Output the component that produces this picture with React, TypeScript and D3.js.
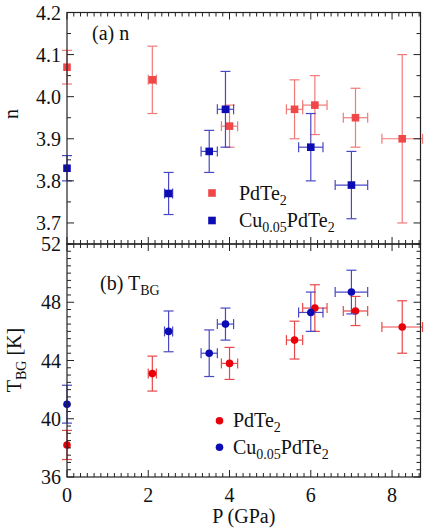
import * as d3 from "d3";

// pressure (GPa) and its error, PdTe2
const pdP = [0, 2.1, 4.0, 5.6, 6.1, 7.1, 8.25];
const pdPErr = [0, 0.1, 0.2, 0.2, 0.3, 0.3, 0.5];
// exponent n, PdTe2
const pdN = [4.07, 4.04, 3.93, 3.97, 3.98, 3.95, 3.9];
const pdNLo = [4.03, 3.96, 3.88, 3.9, 3.91, 3.88, 3.7];
const pdNHi = [4.11, 4.12, 3.98, 4.04, 4.05, 4.02, 4.1];
// T_BG, PdTe2
const pdT = [38.2, 43.1, 43.8, 45.4, 47.6, 47.4, 46.3];
const pdTLo = [37.2, 41.9, 42.7, 44.1, 46.0, 46.4, 44.5];
const pdTHi = [39.2, 44.3, 44.9, 46.7, 49.2, 48.4, 48.1];

// Cu0.05PdTe2
const cuP = [0, 2.5, 3.5, 3.9, 6.0, 7.0];
const cuPErr = [0, 0.1, 0.2, 0.2, 0.3, 0.4];
const cuN = [3.83, 3.77, 3.87, 3.97, 3.88, 3.79];
const cuNLo = [3.8, 3.72, 3.82, 3.88, 3.8, 3.71];
const cuNHi = [3.86, 3.82, 3.92, 4.06, 3.96, 3.87];
const cuT = [41.0, 46.0, 44.5, 46.5, 47.3, 48.7];
const cuTLo = [39.7, 44.6, 42.9, 45.4, 46.0, 47.2];
const cuTHi = [42.3, 47.4, 46.1, 47.6, 48.7, 50.2];

const xTicks = [0, 2, 4, 6, 8];
const nTicks = [3.7, 3.8, 3.9, 4.0, 4.1, 4.2];
const tTicks = [36, 40, 44, 48, 52];

const W = 427;
const H = 532;
const L = 67;
const R = 420.5;
const TOP = 12.5;
const MID = 244;
const BOT = 477;
const FONT = "Liberation Serif, Times New Roman, DejaVu Serif, serif";
const txt = { fontFamily: FONT };

const x = d3.scaleLinear().domain([0, 8.7]).range([L, R]);
const yN = d3.scaleLinear().domain([3.65, 4.2]).range([MID, TOP]);
const yT = d3.scaleLinear().domain([36, 52]).range([BOT, MID]);

type Pt = { p: number; pe: number; v: number; lo: number; hi: number };
const zip = (P: number[], PE: number[], V: number[], LO: number[], HI: number[]): Pt[] =>
  P.map((p, i) => ({ p, pe: PE[i], v: V[i], lo: LO[i], hi: HI[i] }));

function Frame({ y, top, bottom, minorY, majorY }: {
  y: d3.ScaleLinear<number, number>; top: number; bottom: number; minorY: number[]; majorY: number[];
}) {
  const xMinor = d3.range(0, 53).map((i) => i / 6).filter((v) => v <= 8.7);
  const ticks: JSX.Element[] = [];
  xMinor.forEach((v, i) => {
    const len = i % 12 === 0 ? 7 : 4;
    const px = x(v);
    ticks.push(<line key={"xb" + i} x1={px} x2={px} y1={bottom} y2={bottom - len} />);
    ticks.push(<line key={"xt" + i} x1={px} x2={px} y1={top} y2={top + len} />);
  });
  minorY.forEach((v, i) => {
    const major = majorY.some((m) => Math.abs(m - v) < 1e-6);
    const len = major ? 7 : 4;
    const py = y(v);
    ticks.push(<line key={"yl" + i} x1={L} x2={L + len} y1={py} y2={py} />);
    ticks.push(<line key={"yr" + i} x1={R} x2={R - len} y1={py} y2={py} />);
  });
  return (
    <g stroke="#222" strokeWidth={1}>
      {ticks}
      <rect x={L} y={top} width={R - L} height={bottom - top} fill="none" strokeWidth={1.2} />
    </g>
  );
}

function ErrPoints({ data, y, color, barColor, shape }: {
  data: Pt[]; y: d3.ScaleLinear<number, number>; color: string; barColor: string; shape: "sq" | "circ";
}) {
  const cap = 5;
  return (
    <g>
      {data.map((d, i) => {
        const cx = x(d.p);
        const cy = y(d.v);
        const x0 = x(d.p - d.pe);
        const x1 = x(d.p + d.pe);
        return (
          <g key={i} stroke={barColor} strokeWidth={1.2}>
            <line x1={cx} x2={cx} y1={y(d.lo)} y2={y(d.hi)} />
            <line x1={cx - cap} x2={cx + cap} y1={y(d.lo)} y2={y(d.lo)} />
            <line x1={cx - cap} x2={cx + cap} y1={y(d.hi)} y2={y(d.hi)} />
            {d.pe > 0 && (
              <>
                <line x1={x0} x2={x1} y1={cy} y2={cy} />
                <line x1={x0} x2={x0} y1={cy - cap} y2={cy + cap} />
                <line x1={x1} x2={x1} y1={cy - cap} y2={cy + cap} />
              </>
            )}
            {shape === "sq" ? (
              <rect x={cx - 3.8} y={cy - 3.8} width={7.6} height={7.6} fill={color} stroke="none" />
            ) : (
              <circle cx={cx} cy={cy} r={3.8} fill={color} stroke="none" />
            )}
          </g>
        );
      })}
    </g>
  );
}

function Formula({ x: tx, y: ty, cu }: { x: number; y: number; cu: boolean }) {
  return (
    <text x={tx} y={ty} fontSize={20} style={txt} fill="#111">
      {cu && (
        <>
          Cu<tspan fontSize={14} dy={5}>0.05</tspan>
          <tspan dy={-5}>PdTe</tspan>
        </>
      )}
      {!cu && "PdTe"}
      <tspan fontSize={14} dy={5}>2</tspan>
    </text>
  );
}

export default function App() {
  const nMinor = d3.range(0, 12).map((i) => 3.65 + i * 0.05);
  const tMinor = d3.range(0, 33).map((i) => 36 + i * 0.5);
  const red = zip(pdP, pdPErr, pdN, pdNLo, pdNHi);
  const blue = zip(cuP, cuPErr, cuN, cuNLo, cuNHi);
  const redT = zip(pdP, pdPErr, pdT, pdTLo, pdTHi);
  const blueT = zip(cuP, cuPErr, cuT, cuTLo, cuTHi);

  return (
    <svg width={W} height={H} style={{ position: "absolute", left: 0, top: 0, background: "#fff", fontFamily: FONT }}>
      <rect width={W} height={H} fill="#fff" />

      {/* panel (a) */}
      <ErrPoints data={red} y={yN} color="#f04848" barColor="#f07a7a" shape="sq" />
      <ErrPoints data={blue} y={yN} color="#0c0cb4" barColor="#4848c4" shape="sq" />
      <Frame y={yN} top={TOP} bottom={MID} minorY={nMinor} majorY={nTicks} />
      <text x={92} y={40} fontSize={20} style={txt} fill="#111">(a) n</text>
      <rect x={212 - 3.8} y={193 - 3.8} width={7.6} height={7.6} fill="#f04848" />
      <rect x={212 - 3.8} y={220.5 - 3.8} width={7.6} height={7.6} fill="#0c0cb4" />
      <Formula x={239} y={200} cu={false} />
      <Formula x={239} y={227} cu={true} />

      {/* panel (b) */}
      <ErrPoints data={redT} y={yT} color="#e8000a" barColor="#e84848" shape="circ" />
      <ErrPoints data={blueT} y={yT} color="#0c0cb4" barColor="#4848c4" shape="circ" />
      <Frame y={yT} top={MID} bottom={BOT} minorY={tMinor} majorY={tTicks} />
      <text x={100} y={290} fontSize={20} style={txt} fill="#111">
        (b) T<tspan fontSize={14} dy={5}>BG</tspan>
      </text>
      <circle cx={219.5} cy={420.7} r={3.8} fill="#e8000a" />
      <circle cx={219.5} cy={447.3} r={3.8} fill="#0c0cb4" />
      <Formula x={233} y={427} cu={false} />
      <Formula x={233} y={454} cu={true} />

      {/* tick labels */}
      <g fontSize={20} style={txt} fill="#111">
        {nTicks.map((v) => (
          <text key={"n" + v} x={61} y={yN(v)} dy="0.35em" textAnchor="end">{v.toFixed(1)}</text>
        ))}
        {tTicks.map((v) => (
          <text key={"t" + v} x={61} y={yT(v)} dy="0.35em" textAnchor="end">{v}</text>
        ))}
        {xTicks.map((v) => (
          <text key={"x" + v} x={x(v)} y={502} textAnchor="middle">{v}</text>
        ))}
        <text x={(L + R) / 2} y={523} textAnchor="middle">P (GPa)</text>
        <text transform="translate(18,114) rotate(-90)" textAnchor="middle">n</text>
        <text transform="translate(21,360) rotate(-90)" textAnchor="middle">
          T<tspan fontSize={14} dy={5}>BG</tspan><tspan dy={-5}> [K]</tspan>
        </text>
      </g>
    </svg>
  );
}
